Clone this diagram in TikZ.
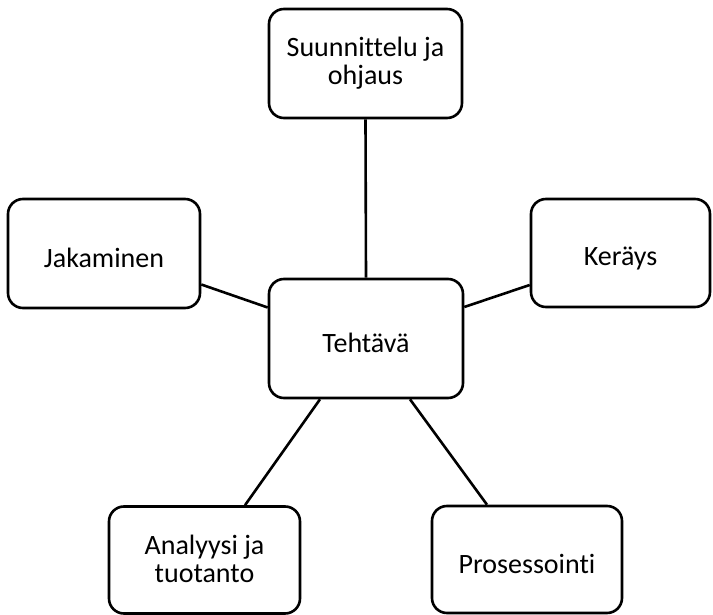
\documentclass[tikz,border=0pt]{standalone}
\usepackage{fontspec}
\setmainfont{Carlito}[Ligatures=NoCommon]
\usepackage{tikz}
\usetikzlibrary{positioning}
\newcommand{\boxstrut}{\rule[-2.5pt]{0pt}{32pt}}

\begin{document}
\begin{tikzpicture}[x=1pt,y=-1pt,line width=2.6pt,
        box/.style={draw=black,fill=white,rounded corners=15pt,align=center,
                    inner sep=0pt,font=\fontsize{28}{28}\selectfont,
                    execute at begin node=\boxstrut,execute at end node=\boxstrut},
        link/.style={draw=black,line width=2.6pt}]
      \useasboundingbox (0,0) rectangle (713,615);
      \node[box,minimum width=194pt,minimum height=119pt] (task) at (366,338.5)
        {Tehtävä};
      \node[box,minimum width=193pt,minimum height=109pt] (plan) at (365.5,63.5)
        {Suunnittelu ja\\ohjaus};
      \node[box,minimum width=192pt,minimum height=109pt] (share) at (104,253.5)
        {Jakaminen};
      \node[box,minimum width=179pt,minimum height=108pt] (collect) at (620.5,253)
        {Keräys};
      \node[box,minimum width=191pt,minimum height=107pt] (analysis) at (204.5,560)
        {Analyysi ja\\tuotanto};
      \node[box,minimum width=190pt,minimum height=107pt] (process) at (527,559.5)
        {Prosessointi};
      % connectors from the task to every stage
      \draw[link] (plan.south) -- (task.north);
      \draw[link] ([yshift=-31pt]share.east) -- ([yshift=31pt]task.west);
      \draw[link] ([yshift=31.5pt]task.east) -- ([yshift=-32pt]collect.west);
      \draw[link] ([xshift=-46pt]task.south) -- ([xshift=40.5pt]analysis.north);
      \draw[link] ([xshift=44pt]task.south) -- ([xshift=-40pt]process.north);
    \end{tikzpicture}
\end{document}
